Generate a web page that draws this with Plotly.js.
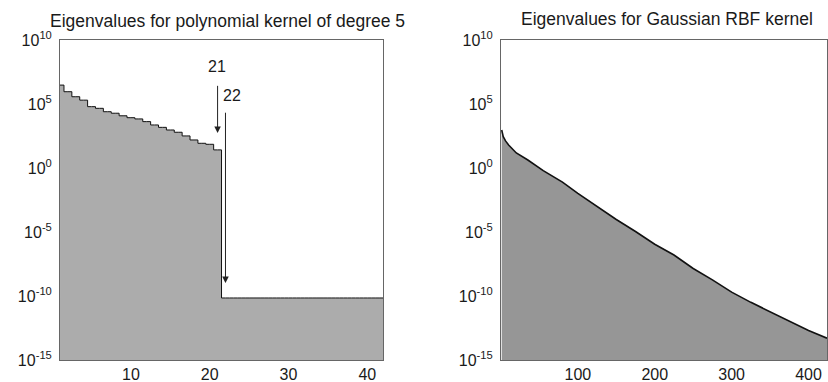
<!DOCTYPE html>
<html>
<head>
<meta charset="utf-8">
<script src="https://cdn.plot.ly/plotly-3.0.1.min.js"></script>
<style>html,body{margin:0;padding:0;background:#fff;}#chart{width:828px;height:382px;}</style>
</head>
<body>
<div id="chart"></div>
<script>
// Left panel: eigenvalues of polynomial kernel (degree 5)
const polyIdx = [1,2,3,4,5,6,7,8,9,10,11,12,13,14,15,16,17,18,19,20,21,
                 22,23,24,25,26,27,28,29,30,31,32,33,34,35,36,37,38,39,40,41,42];
const polyEig = [3.0e6, 9.1e5, 3.7e5, 2.0e5, 6.2e4, 4.6e4, 2.5e4, 1.9e4, 1.2e4, 8.5e3,
                 6.8e3, 4.2e3, 2.3e3, 1.5e3, 930, 620, 320, 155, 85, 71, 26,
                 7e-11, 7e-11, 7e-11, 7e-11, 7e-11, 7e-11, 7e-11, 7e-11, 7e-11, 7e-11,
                 7e-11, 7e-11, 7e-11, 7e-11, 7e-11, 7e-11, 7e-11, 7e-11, 7e-11, 7e-11, 7e-11];

// Right panel: eigenvalues of Gaussian RBF kernel
const rbfIdx = [1, 3, 6, 10, 20, 35, 55, 80, 100, 125, 150, 175, 200, 225, 250, 275, 300, 325, 350, 375, 400, 424];
const rbfEig = [9.3e2, 2.8e2, 1.3e2, 63, 15, 4.2, 0.63, 0.079, 0.0105, 1.0e-3, 9.5e-5, 1.1e-5,
                1.1e-6, 1.6e-7, 1.4e-8, 1.8e-9, 2.0e-10, 3.2e-11, 5.6e-12, 1.1e-12, 2.0e-13, 5.0e-14];

// Axis ticks
const yTickVals = [1e-15, 1e-10, 1e-5, 1, 1e5, 1e10];
const yTickText = ['10<sup>-15</sup>', '10<sup>-10</sup>', '10<sup>-5</sup>', '10<sup>0</sup>', '10<sup>5</sup>', '10<sup>10</sup>'];
const leftXTicks = [10, 20, 30, 40];
const rightXTicks = [100, 200, 300, 400];

// Arrow labels (index, label)
const arrowIdx = [21, 22];
const arrowLabels = ['21', '22'];

const FONT = 'Liberation Sans, Arial, Helvetica, sans-serif';
const TXT = '#1a1a1a';

const traces = [
  {
    x: polyIdx, y: polyEig, type: 'scatter', mode: 'lines',
    line: {shape: 'hvh', color: '#111', width: 1},
    fill: 'tozeroy', fillcolor: '#acacac',
    xaxis: 'x', yaxis: 'y', hoverinfo: 'skip'
  },
  {
    x: rbfIdx, y: rbfEig, type: 'scatter', mode: 'lines',
    line: {color: '#111', width: 1.6},
    fill: 'tozeroy', fillcolor: '#969696',
    xaxis: 'x2', yaxis: 'y2', hoverinfo: 'skip'
  }
];

const yDom = [0.0576, 0.8953];
const yAxisCommon = {
  type: 'log', range: [-15, 10], domain: yDom,
  tickmode: 'array', tickvals: yTickVals, ticktext: yTickText,
  showgrid: false, zeroline: false, showline: true, mirror: true,
  linecolor: '#666', linewidth: 1, ticks: '', ticklabelstandoff: 4,
  tickfont: {family: FONT, size: 16, color: TXT}
};
const xAxisCommon = {
  showgrid: false, zeroline: false, showline: true, mirror: true,
  linecolor: '#666', linewidth: 1, ticks: '', tickmode: 'array',
  tickfont: {family: FONT, size: 16, color: TXT}
};

const layout = {
  width: 828, height: 382,
  margin: {l: 0, r: 0, t: 0, b: 0},
  paper_bgcolor: '#fff', plot_bgcolor: '#fff',
  showlegend: false,
  xaxis: Object.assign({}, xAxisCommon, {domain: [0.0725, 0.4626], range: [1, 42], tickvals: leftXTicks, anchor: 'y'}),
  yaxis: Object.assign({}, yAxisCommon, {anchor: 'x'}),
  xaxis2: Object.assign({}, xAxisCommon, {domain: [0.605, 0.9988], range: [0, 424], tickvals: rightXTicks, anchor: 'y2'}),
  yaxis2: Object.assign({}, yAxisCommon, {anchor: 'x2'}),
  annotations: [
    {text: 'Eigenvalues for polynomial kernel of degree 5', xref: 'paper', yref: 'paper',
     x: 0.2748, y: 0.946, xanchor: 'center', yanchor: 'middle', showarrow: false,
     font: {family: FONT, size: 17.5, color: TXT}},
    {text: 'Eigenvalues for Gaussian RBF kernel', xref: 'paper', yref: 'paper',
     x: 0.805, y: 0.950, xanchor: 'center', yanchor: 'middle', showarrow: false,
     font: {family: FONT, size: 17.5, color: TXT}},
    // arrow 21
    {text: ' ', xref: 'x', yref: 'y', x: arrowIdx[0], y: 2.73, axref: 'x', ayref: 'y',
     ax: arrowIdx[0], ay: 7.2, showarrow: true, arrowhead: 2, arrowsize: 1.3, arrowwidth: 1, arrowcolor: '#222'},
    {text: arrowLabels[0], xref: 'x', yref: 'y', x: arrowIdx[0] - 0.1, y: 7.9, showarrow: false,
     font: {family: FONT, size: 16, color: TXT}},
    // arrow 22
    {text: ' ', xref: 'x', yref: 'y', x: arrowIdx[1], y: -8.98, axref: 'x', ayref: 'y',
     ax: arrowIdx[1], ay: 5.1, showarrow: true, arrowhead: 2, arrowsize: 1.3, arrowwidth: 1, arrowcolor: '#222'},
    {text: arrowLabels[1], xref: 'x', yref: 'y', x: arrowIdx[1] + 0.85, y: 5.7, showarrow: false,
     font: {family: FONT, size: 16, color: TXT}}
  ]
};

Plotly.newPlot('chart', traces, layout, {staticPlot: true, displayModeBar: false});
</script>
</body>
</html>
